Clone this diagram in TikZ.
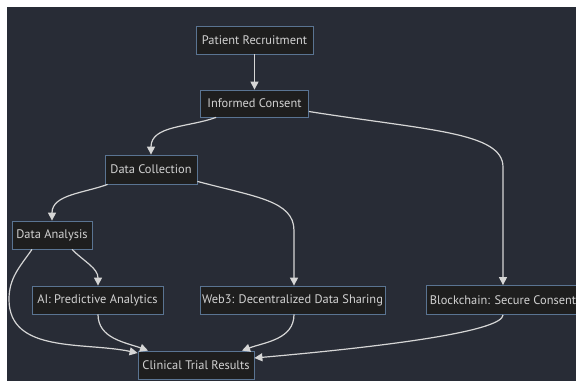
\documentclass[tikz,border=0pt]{standalone}
\usepackage{fontspec}
\setmainfont{PT Sans}
\usetikzlibrary{arrows.meta}
\definecolor{bgcol}{RGB}{40,44,54}
\definecolor{boxfill}{RGB}{30,30,30}
\definecolor{boxline}{RGB}{90,116,146}
\definecolor{boxtext}{RGB}{210,210,210}
\definecolor{linecol}{RGB}{214,214,214}
\begin{document}
\begin{tikzpicture}[x=1pt,y=1pt,>={Triangle[length=8pt,width=8pt]},
  box/.style={draw=boxline,fill=boxfill,text=boxtext,line width=0.8pt,
    minimum height=28pt,inner sep=0pt,font=\fontsize{12.4}{14}\selectfont},
  flow/.style={->,draw=linecol,line width=1.2pt}]
\useasboundingbox (0,0) rectangle (576,381);
\fill[bgcol] (7,0) rectangle (576,374);
\node[box,minimum width=117pt] (pr) at (254.5,341) {Patient Recruitment};
\node[box,minimum width=108pt,minimum height=27pt] (ic) at (254.5,277.5) {Informed Consent};
\node[box,minimum width=92pt,minimum height=29pt] (dc) at (151,211.5) {Data Collection};
\node[box,minimum width=80pt] (da) at (52,146) {Data Analysis};
\node[box,minimum width=131pt] (ai) at (97.5,81) {AI: Predictive Analytics};
\node[box,minimum width=185pt] (w3) at (292.5,81) {Web3: Decentralized Data Sharing};
\node[box,minimum width=154pt,minimum height=29pt] (bc) at (503,81) {Blockchain: Secure Consent};
\node[box,minimum width=116pt] (cr) at (196,16) {Clinical Trial Results};
\draw[flow] (pr) -- (ic);
\draw[flow] ([xshift=16pt]ic.south west) to[out=200,in=90] (dc.north);
\draw[flow] ([yshift=-8pt]ic.east) .. controls +(-9:120) and +(0,35) .. ([yshift=118pt]bc.north) -- (bc.north);
\draw[flow] ([xshift=3pt]dc.south west) to[out=200,in=90] (da.north);
\draw[flow] ([yshift=3pt]dc.south east) .. controls +(-15:60) and +(0,30) .. ([xshift=1.5pt,yshift=55pt]w3.north) -- ([xshift=1.5pt]w3.north);
\draw[flow] ([xshift=20pt]da.south) to[out=-45,in=90] ([xshift=0.5pt]ai.north);
\draw[flow] ([xshift=-20pt]da.south) to[out=235,in=90] ++(-23,-50) to[out=-90,in=168] ([yshift=12pt]cr.west);
\draw[flow] ([xshift=0.5pt]ai.south) to[out=-90,in=160] ([xshift=-48pt]cr.north);
\draw[flow] ([xshift=1.5pt]w3.south) to[out=-90,in=20] ([xshift=46pt]cr.north);
\draw[flow] (bc.south) .. controls +(0,-15) and +(5:150) .. ([yshift=7pt]cr.east);
\end{tikzpicture}
\end{document}
